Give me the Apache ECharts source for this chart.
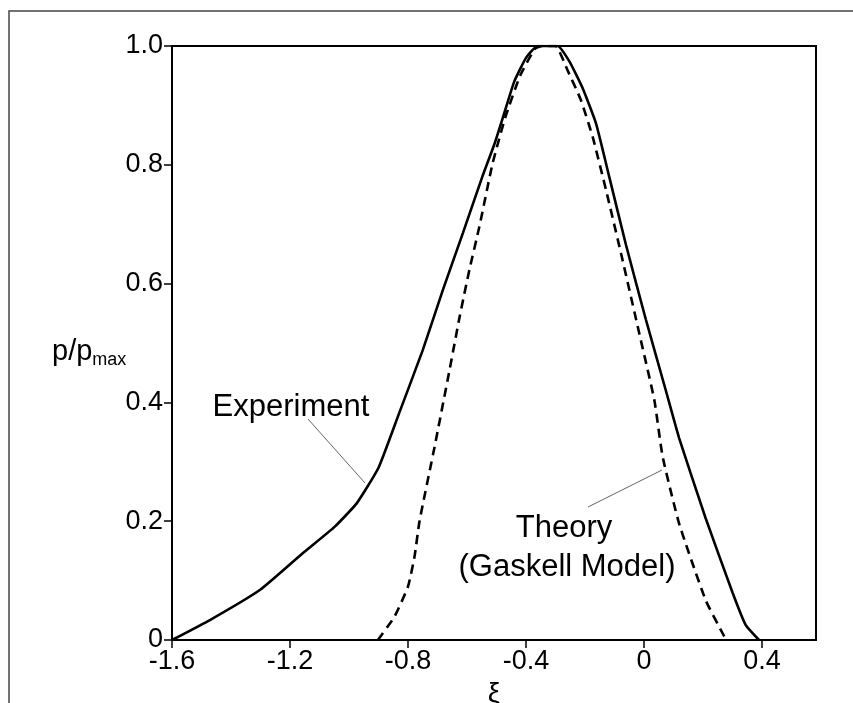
<!DOCTYPE html>
<html>
<head>
<meta charset="utf-8">
<script src="https://cdn.jsdelivr.net/npm/echarts@6/dist/echarts.min.js"></script>
<style>
  html, body { margin: 0; padding: 0; background: #fff; }
  #chart { width: 853px; height: 703px; }
</style>
</head>
<body>
<div id="chart"></div>
<script>
// values: [xi, p/pmax]
const experimentX = [-1.6, -1.47, -1.3, -1.157, -1.05, -0.974, -0.9, -0.83, -0.75, -0.682, -0.614, -0.548, -0.507, -0.475, -0.44, -0.4, -0.361, -0.293, -0.253, -0.209, -0.163, -0.118, -0.061, 0.006, 0.074, 0.119, 0.209, 0.3, 0.345, 0.39];
const experimentY = [0, 0.034, 0.085, 0.146, 0.19, 0.23, 0.29, 0.382, 0.488, 0.589, 0.685, 0.78, 0.835, 0.885, 0.94, 0.98, 1.0, 1.0, 0.974, 0.93, 0.87, 0.78, 0.665, 0.54, 0.42, 0.34, 0.205, 0.08, 0.025, 0];

const theoryX = [-0.902, -0.845, -0.8, -0.778, -0.761, -0.71, -0.659, -0.625, -0.592, -0.558, -0.513, -0.47, -0.42, -0.37, -0.345, -0.3, -0.26, -0.214, -0.174, -0.129, -0.078, -0.016, 0.035, 0.063, 0.119, 0.209, 0.27, 0.28];
const theoryY = [0, 0.04, 0.09, 0.14, 0.2, 0.325, 0.455, 0.544, 0.623, 0.696, 0.803, 0.88, 0.95, 0.995, 1.0, 1.0, 0.96, 0.909, 0.847, 0.758, 0.651, 0.516, 0.404, 0.309, 0.196, 0.067, 0.008, 0];

const xTicks = [-1.6, -1.2, -0.8, -0.4, 0, 0.4];
const yTicks = [0, 0.2, 0.4, 0.6, 0.8, 1.0];

const font = '"Liberation Sans", Arial, sans-serif';
const zip = (xs, ys) => xs.map((x, i) => [x, ys[i]]);
const fmt = (v) => (Math.abs(v) < 1e-9 ? '0' : v.toFixed(1));

const chart = echarts.init(document.getElementById('chart'));

const axisCommon = {
  type: 'value',
  axisLine: { show: true, onZero: false, lineStyle: { color: '#000', width: 2 } },
  axisTick: { show: true, inside: false, length: 8, lineStyle: { color: '#000', width: 1.5 } },
  splitLine: { show: false },
};

chart.setOption({
  backgroundColor: '#fff',
  animation: false,
  grid: {
    left: 172,
    right: 37,
    top: 46,
    bottom: 63,
    containLabel: false,
    outerBoundsMode: 'none',
    show: true,
    borderColor: '#000',
    borderWidth: 2,
  },
  xAxis: {
    ...axisCommon,
    min: xTicks[0],
    max: 0.583,
    interval: 0.4,
    axisLabel: {
      color: '#000',
      fontFamily: font,
      fontSize: 27,
      margin: 8,
      showMaxLabel: false,
      formatter: fmt,
    },
    name: 'ξ',
    nameLocation: 'middle',
    nameGap: 40,
    nameTextStyle: { color: '#000', fontFamily: font, fontSize: 28 },
  },
  yAxis: {
    ...axisCommon,
    min: yTicks[0],
    max: yTicks[yTicks.length - 1],
    interval: 0.2,
    axisLabel: {
      color: '#000',
      fontFamily: font,
      fontSize: 27,
      margin: 9,
      formatter: fmt,
    },
  },
  series: [
    {
      name: 'Experiment',
      type: 'line',
      data: zip(experimentX, experimentY),
      showSymbol: false,
      smooth: 0.15,
      lineStyle: { color: '#000', width: 2.6 },
    },
    {
      name: 'Theory',
      type: 'line',
      data: zip(theoryX, theoryY),
      showSymbol: false,
      smooth: 0.15,
      lineStyle: { color: '#000', width: 2.6, type: [9, 6] },
    },
  ],
  graphic: [
    // outer frame
    {
      type: 'rect',
      shape: { x: 9, y: 11, width: 900, height: 800 },
      style: { fill: null, stroke: '#444', lineWidth: 1.5 },
      silent: true,
    },
    // y axis title
    {
      type: 'text',
      x: 52,
      y: 352,
      style: {
        text: '{a|p/p}{b|max}',
        verticalAlign: 'middle',
        rich: {
          a: { fontFamily: font, fontSize: 29, fill: '#000' },
          b: { fontFamily: font, fontSize: 18, fill: '#000', padding: [16, 0, 0, 0] },
        },
      },
    },
    // Experiment annotation
    {
      type: 'text',
      x: 291,
      y: 407,
      style: {
        text: 'Experiment',
        fontFamily: font,
        fontSize: 31,
        fill: '#000',
        align: 'center',
        verticalAlign: 'middle',
      },
    },
    {
      type: 'line',
      shape: { x1: 308, y1: 419, x2: 365, y2: 483 },
      style: { stroke: '#666', lineWidth: 1 },
    },
    // Theory annotation
    {
      type: 'text',
      x: 564,
      y: 528,
      style: {
        text: 'Theory',
        fontFamily: font,
        fontSize: 31,
        fill: '#000',
        align: 'center',
        verticalAlign: 'middle',
      },
    },
    {
      type: 'text',
      x: 567,
      y: 567,
      style: {
        text: '(Gaskell Model)',
        fontFamily: font,
        fontSize: 31,
        fill: '#000',
        align: 'center',
        verticalAlign: 'middle',
      },
    },
    {
      type: 'line',
      shape: { x1: 588, y1: 507, x2: 662, y2: 470 },
      style: { stroke: '#666', lineWidth: 1 },
    },
  ],
});
</script>
</body>
</html>
